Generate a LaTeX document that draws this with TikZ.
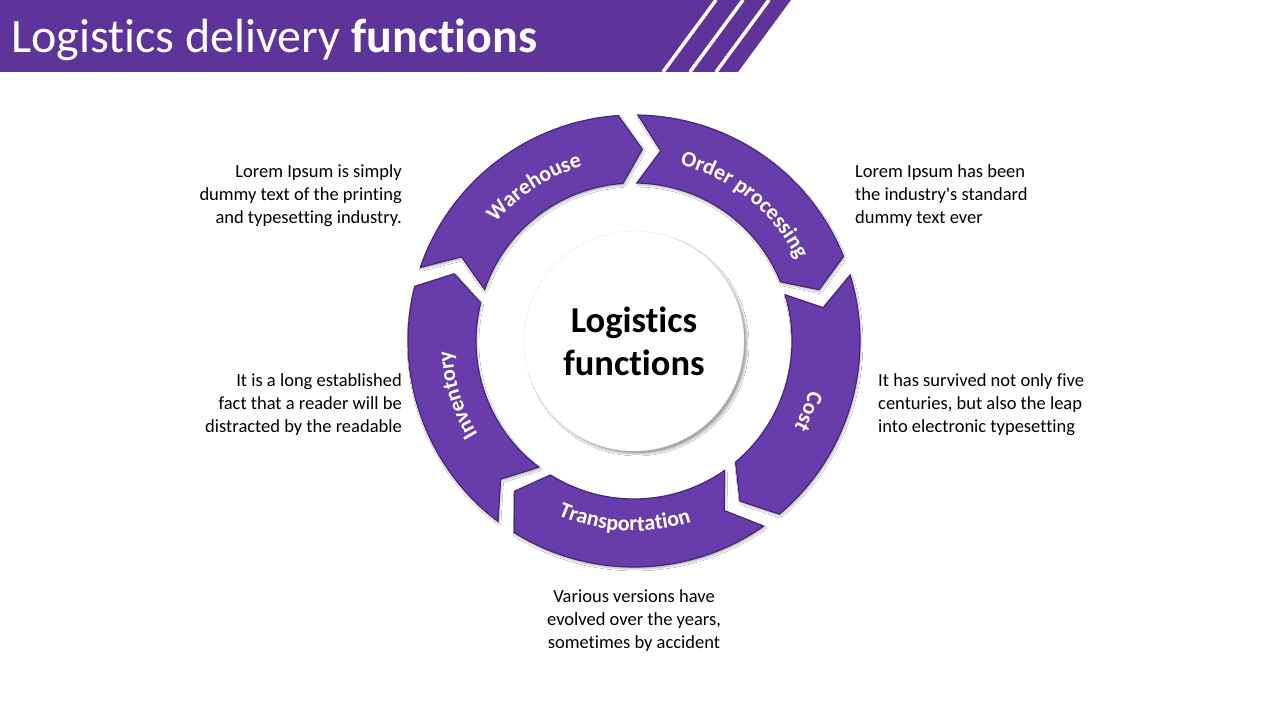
\documentclass[tikz,border=0pt]{standalone}
\usepackage{fontspec}
\setmainfont{Carlito}[Ligatures={NoCommon}]
\usetikzlibrary{decorations.text,shadows.blur}
\definecolor{bandpurple}{RGB}{94,52,154}
\definecolor{ringpurple}{RGB}{104,60,170}
\definecolor{ringedge}{RGB}{70,38,122}
\tikzset{
	segment/.style={
			fill=ringpurple, draw=ringedge, line width=1.2pt,
			blur shadow={shadow xshift=1pt, shadow yshift=-2pt, shadow opacity=30}
		},
	note/.style={font=\fontsize{18.5}{23}\selectfont, text=black, inner sep=0pt},
	ringlabel/.style={
			decorate,
			decoration={text along path, text align=center, text color=white,
					text={|\fontsize{22}{22}\selectfont\bfseries|#1}}
		}
}

\begin{document}
\begin{tikzpicture}[x=1pt, y=1pt]
	\useasboundingbox (0,0) rectangle (1280,720);
	\fill[white] (0,0) rectangle (1280,720);

	% title band
	\fill[bandpurple] (0,720) -- (791,720) -- (738,648) -- (0,648) -- cycle;
	\foreach \x in {716,743,769} {
		\draw[white, line width=3.5pt] (\x,720) -- ({\x-53},648);
	}
	\node[anchor=base west, text=white, inner sep=0pt, font=\fontsize{48}{48}\selectfont]
		(title) at (11,667) {Logistics delivery \textbf{functions}};

	\begin{scope}[shift={(634,379)}]
		\foreach \t in {161,89,17,-55,-127} {
			\pgfmathsetmacro\h{\t-67}
			\draw[segment] (\t:226) arc[start angle=\t, end angle=\h, radius=226]
				-- ({\h-6.5}:192) -- (\h:158) arc[start angle=\h, end angle=\t, radius=158]
				-- ({\t-7}:192) -- cycle;
		}

		\node[circle, minimum size=220pt, inner sep=0pt, fill=white, draw=black!8,
			blur shadow={shadow xshift=3pt, shadow yshift=-3pt, shadow opacity=35},
			align=center, font=\fontsize{36.5}{43}\selectfont\bfseries]
			(hub) at (0,0) {Logistics\\functions};

		\path[ringlabel=Warehouse] (163:182) arc[start angle=163, end angle=83, radius=182];
		\path[ringlabel=Order processing] (91:182) arc[start angle=91, end angle=11, radius=182];
		\path[ringlabel=Cost] (18:182) arc[start angle=18, end angle=-62, radius=182];
		\path[ringlabel=Transportation] (-133:190) arc[start angle=-133, end angle=-53, radius=190];
		\path[ringlabel=Inventory] (-123:182) arc[start angle=-123, end angle=-203, radius=182];
	\end{scope}

	\node[note, anchor=east, align=right] (note-wh) at (402,524)
		{Lorem Ipsum is simply\\dummy text of the printing\\and typesetting industry.};
	\node[note, anchor=west, align=left] (note-op) at (855,524)
		{Lorem Ipsum has been\\the industry\textquotesingle s standard\\dummy text ever};
	\node[note, anchor=east, align=right] (note-in) at (402,315)
		{It is a long established\\fact that a reader will be\\distracted by the readable};
	\node[note, anchor=west, align=left] (note-co) at (878,315)
		{It has survived not only five\\centuries, but also the leap\\into electronic typesetting};
	\node[note, align=center] (note-tr) at (634,99)
		{Various versions have\\evolved over the years,\\sometimes by accident};
\end{tikzpicture}
\end{document}
